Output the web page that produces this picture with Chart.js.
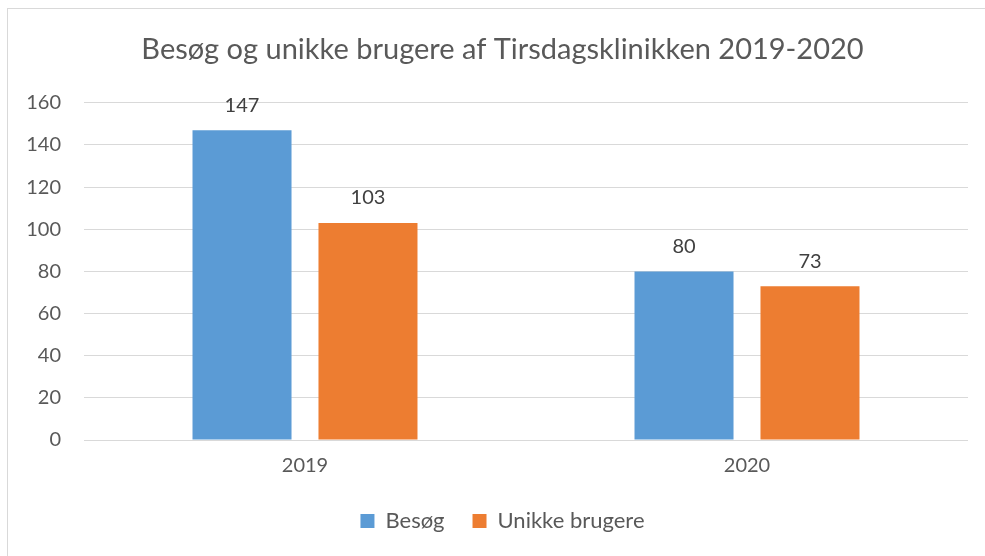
<!DOCTYPE html>
<html>
<head>
<meta charset="utf-8">
<script src="https://cdn.jsdelivr.net/npm/chart.js@4"></script>
<style>
  html, body { margin: 0; padding: 0; background: #fff; }
  #wrap { position: relative; width: 985px; height: 556px; overflow: hidden; }
  #frame { position: absolute; left: 7px; top: 8px; width: 1100px; height: 700px; border: 1px solid #d9d9d9; box-sizing: border-box; }
  canvas { position: absolute; left: 0; top: 0; }
</style>
</head>
<body>
<div id="wrap">
  <div id="frame"></div>
  <canvas id="c" width="985" height="556"></canvas>
</div>
<script>
const titleText = "Besøg og unikke brugere af Tirsdagsklinikken 2019-2020";
const categories = ["2019", "2020"];
const seriesNames = ["Besøg", "Unikke brugere"];
const besog = [147, 80];
const unikkeBrugere = [103, 73];
const yTicks = [0, 20, 40, 60, 80, 100, 120, 140, 160];

const FONT = "Lato, 'Open Sans', sans-serif";
const TXT = "#595959";

const valueLabels = {
  id: "valueLabels",
  afterDatasetsDraw(chart) {
    const ctx = chart.ctx;
    ctx.save();
    ctx.font = "20px " + FONT;
    ctx.fillStyle = "#404040";
    ctx.textAlign = "center";
    ctx.textBaseline = "middle";
    chart.data.datasets.forEach((ds, i) => {
      const meta = chart.getDatasetMeta(i);
      meta.data.forEach((el, j) => {
        ctx.fillText(String(ds.data[j]), el.x, el.y - 25);
      });
    });
    ctx.restore();
  }
};

new Chart(document.getElementById("c"), {
  type: "bar",
  data: {
    labels: categories,
    datasets: [
      { label: seriesNames[0], data: besog, backgroundColor: "#5B9BD5", categoryPercentage: 0.57, barPercentage: 0.786 },
      { label: seriesNames[1], data: unikkeBrugere, backgroundColor: "#ED7D31", categoryPercentage: 0.57, barPercentage: 0.786 }
    ]
  },
  options: {
    responsive: false,
    animation: false,
    devicePixelRatio: 1,
    layout: { padding: { left: 20, right: 0, top: 0, bottom: 14 } },
    plugins: {
      title: {
        display: true,
        text: titleText,
        color: TXT,
        font: { family: FONT, size: 29, weight: "normal" },
        padding: { top: 32, bottom: 36 }
      },
      legend: {
        position: "bottom",
        labels: {
          color: TXT,
          font: { family: FONT, size: 22 },
          boxWidth: 14,
          boxHeight: 14,
          padding: 28
        }
      },
      tooltip: { enabled: false }
    },
    scales: {
      x: {
        grid: { display: false, drawTicks: false },
        border: { display: false },
        afterFit(scale) { scale.height = 42; },
        ticks: { color: TXT, font: { family: FONT, size: 20 }, padding: 14 }
      },
      y: {
        min: 0,
        max: 160,
        afterBuildTicks(scale) { scale.ticks = yTicks.map(v => ({ value: v })); },
        afterFit(scale) { scale.width = 64; },
        grid: { color: "#d9d9d9", lineWidth: 1, drawTicks: false },
        border: { display: false },
        ticks: { color: TXT, font: { family: FONT, size: 20 }, padding: 23 }
      },
      rightPad: {
        type: "linear",
        position: "right",
        display: true,
        grid: { display: false, drawTicks: false },
        border: { display: false },
        ticks: { display: false },
        afterFit(scale) { scale.width = 17; }
      }
    }
  },
  plugins: [valueLabels]
});
</script>
</body>
</html>
